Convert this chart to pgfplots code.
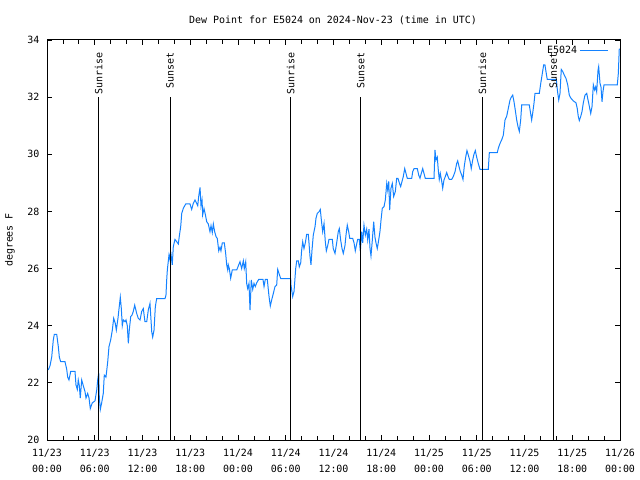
\documentclass[border=0pt]{standalone}
\usepackage{pgfplots}
\pgfplotsset{compat=1.18}
\usepackage{fontspec}
\setmainfont{DejaVu Sans Mono}
\definecolor{dew}{RGB}{20,130,255}

\pgfplotstableread{
h v
0.16 22.45
0.38 22.6
0.59 22.9
0.79 23.5
0.92 23.7
1.22 23.7
1.42 23.27
1.55 22.9
1.72 22.74
2.26 22.74
2.48 22.47
2.60 22.2
2.76 22.1
2.98 22.4
3.52 22.4
3.64 21.93
3.81 21.77
3.93 22.1
4.06 21.9
4.18 21.47
4.36 22.1
4.56 21.9
4.77 21.7
4.90 21.47
5.11 21.63
5.28 21.47
5.44 21.1
5.69 21.3
6.03 21.37
6.25 21.75
6.37 22.1
6.50 22.35
6.57 21.5
6.70 21.07
6.87 21.3
7.07 21.63
7.20 22.27
7.41 22.2
7.63 22.74
7.79 23.27
8.00 23.5
8.21 23.85
8.38 24.26
8.58 24.08
8.71 23.85
8.92 24.26
9.05 24.6
9.21 25.0
9.34 24.6
9.46 24.0
9.59 24.2
9.80 24.14
9.93 24.2
10.09 24.0
10.22 23.38
10.34 23.85
10.52 24.32
10.68 24.37
10.84 24.5
11.02 24.72
11.27 24.43
11.47 24.26
11.69 24.2
11.90 24.5
12.10 24.6
12.31 24.14
12.53 24.14
12.73 24.55
12.94 24.78
13.16 23.79
13.28 23.6
13.45 23.85
13.61 24.66
13.78 24.95
14.83 24.95
14.95 25.07
15.04 25.6
15.12 25.95
15.33 26.48
15.46 26.3
15.54 26.6
15.74 26.13
15.87 26.77
16.08 27.02
16.30 26.94
16.50 26.86
16.62 27.12
16.80 27.47
16.93 27.93
17.13 28.11
17.43 28.26
17.97 28.26
18.18 28.07
18.38 28.28
18.60 28.4
18.81 28.28
18.94 28.2
19.06 28.52
19.23 28.84
19.35 28.2
19.48 28.4
19.56 27.88
19.73 28.1
19.89 27.9
20.07 27.64
20.27 27.56
20.48 27.29
20.61 27.5
20.77 27.26
20.90 27.56
21.07 27.29
21.24 27.12
21.40 27.05
21.58 26.62
21.74 26.75
21.86 26.62
22.03 26.9
22.28 26.9
22.45 26.53
22.58 26.13
22.71 25.95
22.78 26.13
22.91 26.0
23.08 25.66
23.28 25.95
23.84 25.95
24.09 26.13
24.25 26.24
24.46 26.0
24.67 26.27
24.79 26.0
24.97 26.24
25.09 25.48
25.22 25.3
25.38 25.48
25.51 24.55
25.67 25.6
25.85 25.27
26.01 25.48
26.17 25.37
26.35 25.5
26.60 25.62
27.14 25.62
27.27 25.37
27.43 25.62
27.68 25.62
27.90 25.02
28.06 24.69
28.23 24.9
28.43 25.12
28.65 25.37
28.86 25.42
28.99 25.97
29.15 25.83
29.37 25.65
30.62 25.65
30.66 25.42
30.87 25.02
31.04 25.2
31.25 26.0
31.38 26.27
31.58 26.27
31.70 26.06
31.88 26.2
32.00 26.65
32.13 26.94
32.29 26.7
32.46 26.9
32.63 27.2
32.83 27.2
32.92 26.9
33.05 26.42
33.17 26.13
33.30 26.65
33.46 27.17
33.68 27.47
33.80 27.76
33.96 27.93
34.22 28.0
34.34 28.07
34.52 27.58
34.64 27.29
34.81 27.58
34.97 26.94
35.10 26.62
35.27 26.8
35.43 27.02
35.85 27.02
35.97 26.7
36.19 26.53
36.40 26.9
36.60 27.29
36.73 27.4
36.90 27.0
37.07 26.7
37.23 26.53
37.44 26.8
37.57 27.17
37.73 27.52
37.91 27.29
38.04 27.06
38.41 27.06
38.58 26.9
38.74 26.62
38.92 26.87
39.04 27.02
39.24 27.02
39.37 26.6
39.54 27.29
39.67 26.9
39.83 27.52
40.00 27.17
40.17 27.38
40.30 27.0
40.46 27.38
40.59 26.7
40.71 26.44
40.88 27.0
41.05 27.64
41.21 27.1
41.34 26.9
41.50 26.7
41.68 27.0
41.84 27.3
41.97 27.69
42.13 28.11
42.35 28.17
42.51 28.4
42.69 28.98
42.81 28.75
42.94 29.05
43.06 28.05
43.22 28.81
43.39 28.98
43.56 28.52
43.77 28.7
43.94 29.16
44.10 29.16
44.27 29.0
44.44 28.87
44.61 29.05
44.77 29.22
44.95 29.5
45.11 29.33
45.27 29.16
45.83 29.16
45.95 29.39
46.12 29.5
46.53 29.5
46.71 29.27
46.87 29.16
47.03 29.33
47.21 29.5
47.37 29.33
47.53 29.16
48.63 29.16
48.75 30.15
48.88 29.8
49.04 29.9
49.17 29.44
49.29 29.12
49.42 29.33
49.60 29.05
49.72 28.81
49.88 29.1
50.05 29.22
50.22 29.36
50.39 29.22
50.55 29.12
50.85 29.12
51.05 29.22
51.27 29.39
51.48 29.68
51.61 29.77
51.77 29.57
51.93 29.4
52.11 29.27
52.27 29.12
52.44 29.6
52.61 29.9
52.77 30.13
52.94 29.97
53.15 29.76
53.31 29.5
53.49 29.8
53.65 30.0
53.82 30.13
53.99 29.9
54.19 29.68
54.41 29.47
55.45 29.47
55.58 30.06
56.58 30.06
56.71 30.21
56.92 30.38
57.13 30.5
57.34 30.67
57.55 31.2
57.76 31.33
57.96 31.6
58.18 31.9
58.34 32.0
58.52 32.07
58.68 31.84
58.84 31.55
59.02 31.2
59.18 30.97
59.35 30.8
59.52 31.2
59.65 31.73
60.60 31.73
60.73 31.5
60.90 31.2
61.03 31.44
61.19 31.78
61.32 32.13
61.86 32.13
62.04 32.48
62.24 32.83
62.41 33.13
62.57 33.13
62.70 32.89
62.86 32.62
64.00 32.62
64.15 32.2
64.30 31.9
64.46 32.13
64.62 32.97
64.80 32.9
65.00 32.77
65.21 32.66
65.43 32.43
65.63 32.07
65.84 31.96
66.13 31.87
66.47 31.8
66.63 31.6
66.76 31.32
66.89 31.18
67.06 31.32
67.23 31.5
67.39 31.8
67.60 32.07
67.82 32.13
67.94 31.96
68.11 31.73
68.32 31.43
68.48 31.66
68.65 32.43
68.82 32.25
68.95 32.36
69.07 32.19
69.24 32.95
69.32 33.07
69.49 32.48
69.61 32.36
69.74 31.84
69.86 32.19
69.99 32.43
71.66 32.43
71.79 32.83
71.91 33.7
}\dewdata

\begin{document}
\fontsize{10}{11}\selectfont
\begin{tikzpicture}
\path[use as bounding box] (0,0) rectangle (640bp,480bp);
\begin{axis}[
  at={(47bp,40bp)}, anchor=south west,
  scale only axis, width=573bp, height=400bp,
  xmin=0, xmax=72, ymin=20, ymax=34,
  xtick={0,6,...,72},
  xticklabels={{11/23\\00:00},{11/23\\06:00},{11/23\\12:00},{11/23\\18:00},{11/24\\00:00},{11/24\\06:00},{11/24\\12:00},{11/24\\18:00},{11/25\\00:00},{11/25\\06:00},{11/25\\12:00},{11/25\\18:00},{11/26\\00:00}},
  xticklabel style={align=center, font=\fontsize{10}{16}\selectfont, yshift=-6bp},
  minor x tick num=2,
  ytick={20,22,...,34},
  yticklabel style={xshift=-4bp},
  tick align=inside,
  major tick length=5bp, minor tick length=4bp,
  tick style={black, line width=0.8bp},
  axis line style={line width=1bp},
  /pgf/number format/assume math mode=true,
  legend style={draw=none, fill=none, at={(rel axis cs:0.985,0.995)}, anchor=north east, font=\fontsize{10}{11}\selectfont},
  legend plot pos=right,
  legend cell align=right,
  legend image code/.code={\draw[#1] (0bp,0bp) -- (28bp,0bp);},
]
\addplot[dew, line width=1bp] table[x=h, y=v] {\dewdata};
\addlegendentry{E5024}
\addplot[black, line width=1bp, forget plot] coordinates {(6.50,20) (6.50,32)};
\addplot[black, line width=1bp, forget plot] coordinates {(15.46,20) (15.46,32)};
\addplot[black, line width=1bp, forget plot] coordinates {(30.62,20) (30.62,32)};
\addplot[black, line width=1bp, forget plot] coordinates {(39.42,20) (39.42,32)};
\addplot[black, line width=1bp, forget plot] coordinates {(54.70,20) (54.70,32)};
\addplot[black, line width=1bp, forget plot] coordinates {(63.62,20) (63.62,32)};
\node[rotate=90, anchor=east, inner sep=0pt] at (axis cs:6.50,33.58) {Sunrise};
\node[rotate=90, anchor=east, inner sep=0pt] at (axis cs:15.46,33.58) {Sunset};
\node[rotate=90, anchor=east, inner sep=0pt] at (axis cs:30.62,33.58) {Sunrise};
\node[rotate=90, anchor=east, inner sep=0pt] at (axis cs:39.42,33.58) {Sunset};
\node[rotate=90, anchor=east, inner sep=0pt] at (axis cs:54.70,33.58) {Sunrise};
\node[rotate=90, anchor=east, inner sep=0pt] at (axis cs:63.62,33.58) {Sunset};
\end{axis}
\node at (333bp,460bp) {Dew Point for E5024 on 2024-Nov-23 (time in UTC)};
\node[rotate=90] at (10bp,240bp) {degrees F};
\end{tikzpicture}
\end{document}
